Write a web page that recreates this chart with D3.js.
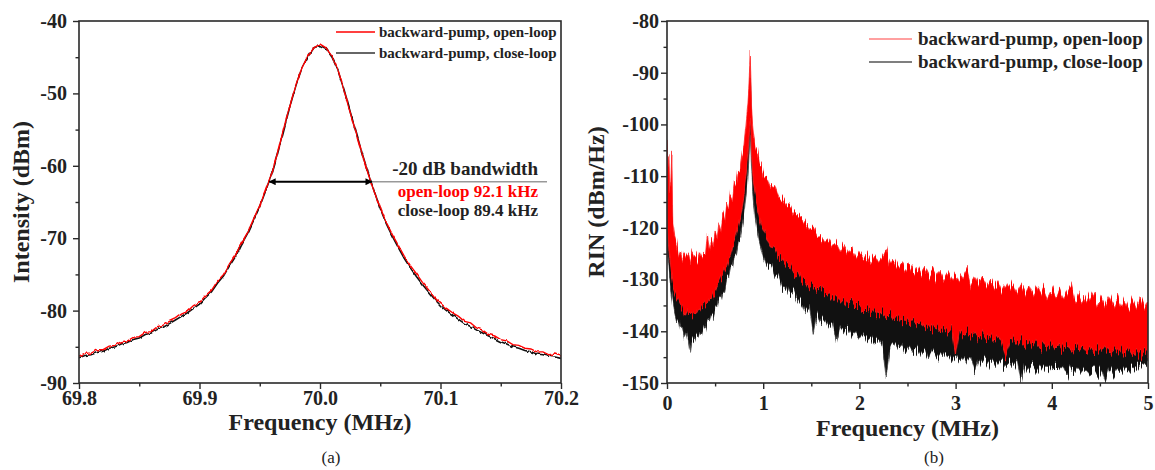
<!DOCTYPE html>
<html>
<head>
<meta charset="utf-8">
<script src="https://cdn.jsdelivr.net/npm/d3@7"></script>
<style>
    body { margin: 0; background: #fff; }
    svg text { font-family: "Liberation Serif", "Times New Roman", serif; }
</style>
</head>
<body>
<svg id="chart" width="1155" height="470"></svg>
<script>
// (a) spectrum around 70 MHz
var specFreq = [69.800, 69.805, 69.810, 69.815, 69.820, 69.825, 69.830, 69.835, 69.840, 69.845,
    69.850, 69.855, 69.860, 69.865, 69.870, 69.875, 69.880, 69.885, 69.890, 69.895,
    69.900, 69.905, 69.910, 69.915, 69.920, 69.925, 69.930, 69.935, 69.940, 69.945,
    69.950, 69.955, 69.960, 69.965, 69.970, 69.975, 69.980, 69.985, 69.990, 69.995,
    70.000, 70.005, 70.010, 70.015, 70.020, 70.025, 70.030, 70.035, 70.040, 70.045,
    70.050, 70.055, 70.060, 70.065, 70.070, 70.075, 70.080, 70.085, 70.090, 70.095,
    70.100, 70.105, 70.110, 70.115, 70.120, 70.125, 70.130, 70.135, 70.140, 70.145,
    70.150, 70.155, 70.160, 70.165, 70.170, 70.175, 70.180, 70.185, 70.190, 70.195, 70.200]
var specOpen = [-86.3, -85.9, -85.9, -85.4, -85.4, -84.9, -84.8, -84.3, -84.2, -83.7,
    -83.6, -83.0, -82.9, -82.2, -82.0, -81.5, -81.1, -80.5, -80.1, -79.3,
    -78.9, -77.9, -77.2, -75.9, -75.0, -73.5, -72.3, -70.6, -69.2, -67.3,
    -65.5, -63.3, -61.0, -58.1, -54.8, -51.7, -48.8, -46.5, -44.8, -43.7,
    -43.2, -43.7, -44.9, -46.8, -49.6, -52.6, -55.5, -58.4, -61.1, -63.6,
    -65.8, -67.8, -69.5, -71.0, -72.5, -73.8, -74.9, -76.1, -77.1, -78.2,
    -79.0, -79.7, -80.3, -80.8, -81.5, -81.7, -82.4, -82.7, -83.3, -83.5,
    -84.0, -84.2, -84.7, -84.8, -85.2, -85.3, -85.7, -85.7, -86.1, -86.0, -86.3]
var specClose = [-86.5, -86.2, -86.1, -85.8, -85.6, -85.2, -85.0, -84.6, -84.4, -84.0,
    -83.8, -83.3, -83.1, -82.6, -82.3, -81.8, -81.3, -80.8, -80.3, -79.7,
    -79.1, -78.2, -77.4, -76.2, -75.2, -73.8, -72.5, -70.8, -69.3, -67.5,
    -65.6, -63.4, -61.1, -58.2, -55.0, -51.8, -48.9, -46.5, -44.9, -43.7,
    -43.4, -43.8, -45.0, -46.9, -49.5, -52.5, -55.4, -58.3, -61.0, -63.5,
    -65.9, -68.0, -69.7, -71.3, -72.8, -74.1, -75.3, -76.4, -77.4, -78.4,
    -79.3, -80.0, -80.6, -81.2, -81.8, -82.2, -82.7, -83.1, -83.5, -83.9,
    -84.3, -84.6, -85.0, -85.2, -85.5, -85.7, -86.0, -86.1, -86.3, -86.4, -86.6]
var specXTicks = [69.8, 69.9, 70.0, 70.1, 70.2]
var specXMinor = [69.85, 69.95, 70.05, 70.15]
var specYTicks = [-40, -50, -60, -70, -80, -90]
var specYMinor = [-45, -55, -65, -75, -85]
// -20 dB bandwidth marker: [left, right] MHz at level dBm
var bwEdges = [69.958, 70.043]
var bwLevel = -62.2
var bwLabels = ['-20 dB bandwidth', 'open-loop 92.1 kHz', 'close-loop 89.4 kHz']

// (b) RIN, drawn as the envelope (top / bottom) of each noisy trace
var rinFreq = [0, 0.01, 0.02, 0.03, 0.04, 0.05, 0.06, 0.07, 0.08,
    0.10, 0.12, 0.14, 0.16, 0.18, 0.20, 0.22, 0.24, 0.26, 0.28, 0.30, 0.32, 0.34, 0.36, 0.38,
    0.40, 0.42, 0.44, 0.46, 0.48, 0.50, 0.52, 0.54, 0.56, 0.58, 0.60, 0.62, 0.64, 0.66, 0.68,
    0.70, 0.72, 0.74, 0.76, 0.78, 0.80, 0.82, 0.84,
    0.85, 0.86, 0.865, 0.87, 0.875, 0.88, 0.89, 0.90, 0.92, 0.94, 0.96, 0.98, 1.00,
    1.04, 1.08, 1.12, 1.16, 1.20, 1.24, 1.28, 1.32, 1.36, 1.40, 1.44, 1.48, 1.52, 1.56, 1.60,
    1.64, 1.68, 1.72, 1.76, 1.80, 1.84, 1.88, 1.92, 1.96, 2.00, 2.04, 2.08, 2.12, 2.16, 2.20,
    2.24, 2.28, 2.32, 2.36, 2.40, 2.44, 2.48, 2.52, 2.56, 2.60, 2.64, 2.68, 2.72, 2.76, 2.80,
    2.84, 2.88, 2.92, 2.96, 3.00, 3.04, 3.08, 3.12, 3.16, 3.20, 3.24, 3.28, 3.32, 3.36, 3.40,
    3.44, 3.48, 3.52, 3.56, 3.60, 3.64, 3.68, 3.72, 3.76, 3.80, 3.84, 3.88, 3.92, 3.96, 4.00,
    4.04, 4.08, 4.12, 4.16, 4.20, 4.24, 4.28, 4.32, 4.36, 4.40, 4.44, 4.48, 4.52, 4.56, 4.60,
    4.64, 4.68, 4.72, 4.76, 4.80, 4.84, 4.88, 4.92, 4.96, 5.00]
var rinOpenHi = [-103, -108, -106, -113, -112, -105.5, -118.5, -120, -121.5,
    -123.0, -125.5, -124.5, -126.3, -124.8, -125.6, -125.0, -126.8, -124.6, -125.5, -125.2, -126.4, -124.8, -125.9, -125.3,
    -125.2, -121.0, -124.0, -122.2, -123.5, -120.6, -122.0, -119.0, -120.5, -117.6, -118.7, -115.2, -116.3, -113.4, -114.2,
    -111.0, -111.9, -108.8, -109.2, -105.5, -104.0, -100.0, -96.0,
    -93, -89, -86.2, -89.5, -94, -97, -100, -102, -104.5, -105, -107.5, -107.6, -109.8,
    -110.3, -112.5, -112.0, -114.3, -114.2, -115.6, -115.8, -117.5, -117.4, -117.8, -119.0, -120.5, -120.0, -121.6, -121.5,
    -122.8, -122.2, -123.6, -123.0, -124.6, -123.4, -125.0, -123.9, -125.8, -124.6, -126.0, -125.0, -126.6, -125.5, -126.9,
    -125.8, -124.2, -127.4, -126.3, -127.8, -126.8, -128.3, -127.0, -128.6, -127.4, -128.9, -127.6, -129.2, -128.0, -129.6,
    -128.2, -129.9, -128.6, -130.2, -128.9, -130.5, -129.2, -127.8, -130.9, -129.6, -131.2, -129.9, -131.4, -130.1, -131.7,
    -130.4, -132.0, -130.6, -132.2, -130.8, -132.5, -131.0, -132.7, -131.2, -133.0, -131.4, -133.2, -131.6, -133.4, -131.8,
    -133.6, -132.0, -133.8, -132.2, -130.8, -134.1, -132.5, -134.3, -132.7, -134.5, -132.9, -134.7, -133.1, -134.9, -133.3,
    -135.1, -133.4, -135.3, -133.6, -135.4, -133.7, -135.6, -133.8, -135.8, -134.0]
var rinOpenLo = [-118, -121, -124, -126, -128, -129.5, -131, -132, -132.5,
    -133.5, -134.0, -135.0, -135.2, -136.5, -136.0, -137.2, -136.8, -137.3, -136.5, -136.6, -135.8, -136.0, -135.2, -135.3,
    -134.6, -134.6, -133.8, -133.9, -132.8, -132.5, -131.4, -131.0, -129.8, -129.2, -128.0, -127.4, -126.0, -125.4, -123.8,
    -122.8, -121.2, -119.8, -118.0, -116.0, -113.5, -110.0, -106.0,
    -103, -100, -99, -100.5, -103, -106, -109, -111.5, -114, -116, -118, -119.5, -120.5,
    -122.2, -124.0, -123.6, -125.6, -126.0, -127.4, -127.2, -128.8, -128.6, -130.4, -129.8, -131.4, -130.8, -132.4, -131.7,
    -133.0, -132.4, -133.8, -133.0, -134.4, -133.6, -135.0, -134.2, -135.6, -134.8, -136.0, -135.3, -136.6, -135.8, -137.0,
    -136.2, -137.4, -136.6, -138.0, -137.0, -138.3, -137.4, -138.7, -137.8, -139.0, -138.1, -139.4, -138.5, -139.8, -138.8,
    -140.1, -139.1, -140.4, -139.4, -144.8, -139.7, -141.0, -140.0, -141.2, -140.2, -141.5, -140.4, -141.7, -140.6, -142.0,
    -140.8, -142.2, -145.0, -142.4, -141.2, -142.6, -141.4, -142.8, -141.6, -143.0, -141.8, -143.2, -142.0, -143.4, -142.2,
    -143.6, -142.3, -143.7, -142.5, -143.9, -142.6, -144.0, -142.8, -144.1, -142.9, -144.2, -143.0, -144.3, -143.1, -144.4,
    -143.2, -144.5, -143.3, -144.6, -143.4, -144.7, -143.5, -144.8, -143.6, -144.8]
var rinCloseHi = [-108, -112, -113, -117, -118, -116, -122, -124, -125,
    -128, -129, -129.5, -130, -130, -130.5, -130.5, -131, -130.5, -130.5, -130, -130, -129.5, -129.5, -129,
    -128.5, -128, -127.5, -127, -126.5, -125.5, -125, -124, -123, -122, -121, -120, -119, -117.5, -116.5,
    -115, -113.5, -112, -110.5, -108.5, -106.5, -103.5, -100,
    -97, -93, -91, -93, -97, -100, -103, -105, -107.5, -108.5, -110, -111, -112.5,
    -114, -115, -116, -117, -118, -119, -119.8, -120.6, -121.4, -122.1, -122.8, -123.4, -124, -124.5, -125,
    -125.4, -125.8, -126.2, -126.6, -127, -127.3, -127.6, -127.9, -128.1, -128.3, -128.5, -128.7, -128.9, -129.1, -129.3,
    -129.5, -129.7, -129.9, -130.1, -130.3, -130.5, -130.7, -130.9, -131.1, -131.3, -131.5, -131.7, -131.9, -132.1, -132.3,
    -132.5, -132.6, -132.8, -132.9, -133.0, -133.1, -133.2, -133.3, -133.4, -133.5, -133.6, -133.7, -133.8, -133.9, -134.0,
    -134.1, -134.2, -134.3, -134.4, -134.5, -134.6, -134.7, -134.8, -134.9, -135.0, -135.1, -135.2, -135.3, -135.4, -135.5,
    -135.6, -135.7, -135.8, -135.9, -136.0, -136.1, -136.2, -136.3, -136.4, -136.5, -136.6, -136.7, -136.8, -136.9, -137.0,
    -137.1, -137.2, -137.3, -137.4, -137.5, -137.6, -137.7, -137.8, -137.9, -138.0]
var rinCloseLo = [-124, -126, -128, -130, -131.5, -133, -134.5, -135.5, -136.5,
    -138.0, -137.5, -139.5, -139.0, -141.0, -140.2, -141.8, -144.3, -141.5, -141.9, -140.8, -141.3, -140.2, -140.6, -139.2,
    -139.5, -138.0, -138.2, -136.9, -137.2, -135.6, -135.8, -133.8, -133.9, -132.0, -132.1, -130.0, -130.0, -128.0, -127.8,
    -125.6, -125.3, -123.0, -122.4, -120.0, -117.5, -114.0, -110.0,
    -107, -103, -101.5, -103, -106, -109, -112, -114.5, -118, -120.5, -122.5, -124, -125.5,
    -127.6, -127.2, -129.4, -129.0, -131.5, -131.0, -133.0, -132.6, -134.6, -134.0, -136.0, -135.4, -140.6, -136.4, -138.0,
    -137.5, -139.0, -138.3, -142.2, -138.9, -140.2, -139.5, -140.8, -140.1, -141.3, -140.6, -141.9, -141.1, -142.3, -141.5,
    -142.8, -148.8, -143.1, -142.2, -143.5, -142.6, -144.0, -143.0, -144.2, -143.4, -144.5, -143.6, -145.5, -143.9, -145.0,
    -144.2, -145.3, -144.4, -145.5, -144.6, -145.7, -144.8, -146.0, -145.0, -147.5, -145.2, -146.3, -145.4, -146.5, -145.6,
    -146.6, -145.8, -146.8, -146.0, -147.0, -146.1, -150.0, -146.3, -147.2, -146.4, -147.3, -146.6, -147.4, -146.7, -147.5,
    -146.8, -147.6, -146.9, -148.4, -147.0, -147.8, -147.1, -147.9, -147.2, -148.0, -147.3, -148.2, -147.4, -149.8, -147.5,
    -148.5, -147.4, -148.0, -147.2, -147.6, -147.0, -147.2, -146.6, -147.0, -146.4]
var rinXTicks = [0, 1, 2, 3, 4, 5]
var rinXMinor = [0.5, 1.5, 2.5, 3.5, 4.5]
var rinYTicks = [-80, -90, -100, -110, -120, -130, -140, -150]
var rinYMinor = [-85, -95, -105, -115, -125, -135, -145]

var seriesNames = ['backward-pump, open-loop', 'backward-pump, close-loop']

;(function () {
    var svg = d3.select('#chart')
    var frameColor = '#2a2a2a'
    var defs = svg.append('defs')

    defs.append('marker')
        .attr('id', 'arrow').attr('viewBox', '0 0 10 10')
        .attr('refX', 9).attr('refY', 5)
        .attr('markerWidth', 9).attr('markerHeight', 7)
        .attr('markerUnits', 'userSpaceOnUse')
        .attr('orient', 'auto-start-reverse')
        .append('path').attr('d', 'M0,0L10,5L0,10z').attr('fill', '#000')

    // vertical-only jitter filter: gives the measured traces their grainy, noisy edge
    function jitter(id, freq, scale, seed) {
        var f = defs.append('filter').attr('id', id)
            .attr('x', '-2%').attr('y', '-15%').attr('width', '104%').attr('height', '130%')
            .attr('color-interpolation-filters', 'sRGB')
        f.append('feTurbulence').attr('type', 'fractalNoise').attr('baseFrequency', freq)
            .attr('numOctaves', 2).attr('seed', seed).attr('result', 't')
        f.append('feColorMatrix').attr('in', 't').attr('type', 'matrix')
            .attr('values', '0 0 0 0 0.5  0 1 0 0 0  0 0 0 0 0  0 0 0 0 1').attr('result', 'm')
        f.append('feDisplacementMap').attr('in', 'SourceGraphic').attr('in2', 'm')
            .attr('scale', scale).attr('xChannelSelector', 'R').attr('yChannelSelector', 'G')
        return 'url(#' + id + ')'
    }

    // plain hyphen for negative tick labels, as in the original figure
    function plain(fmt) {
        var f = d3.format(fmt)
        return function (d) { return f(d).replace('\u2212', '-') }
    }

    // frame + ticks + labels for one panel
    function drawAxes(opt) {
        var x = opt.x, y = opt.y
        var x0 = x.range()[0], x1 = x.range()[1], y0 = y.range()[0], y1 = y.range()[1]
        var g = svg.append('g')

        g.append('g').attr('transform', 'translate(0,' + y0 + ')')
            .call(d3.axisBottom(x).tickValues(opt.xTicks).tickSize(6).tickSizeOuter(0)
                .tickPadding(opt.xPad).tickFormat(opt.xFormat))
        g.append('g').attr('transform', 'translate(0,' + y0 + ')')
            .call(d3.axisBottom(x).tickValues(opt.xMinor).tickSize(3.5).tickSizeOuter(0).tickFormat(''))
        g.append('g').attr('transform', 'translate(' + x0 + ',0)')
            .call(d3.axisLeft(y).tickValues(opt.yTicks).tickSize(6).tickSizeOuter(0)
                .tickPadding(opt.yPad).tickFormat(plain('d')))
        g.append('g').attr('transform', 'translate(' + x0 + ',0)')
            .call(d3.axisLeft(y).tickValues(opt.yMinor).tickSize(3.5).tickSizeOuter(0).tickFormat(''))

        g.selectAll('.domain').remove()
        g.selectAll('.tick line').attr('stroke', frameColor).attr('stroke-width', 1.4)
        g.selectAll('.tick text').attr('fill', '#222')
            .style('font-size', '20px').style('font-weight', 'bold')
            .style('font-family', '"Liberation Serif", serif')

        g.append('rect').attr('x', x0).attr('y', y1)
            .attr('width', x1 - x0).attr('height', y0 - y1)
            .attr('fill', 'none').attr('stroke', frameColor).attr('stroke-width', 1.6)

        g.append('text').attr('x', (x0 + x1) / 2).attr('y', opt.xTitleY)
            .attr('text-anchor', 'middle').attr('fill', '#222')
            .style('font-size', '24px').style('font-weight', 'bold').text('Frequency (MHz)')
        g.append('text').attr('transform', 'translate(' + opt.yTitleX + ',' + ((y0 + y1) / 2) + ') rotate(-90)')
            .attr('text-anchor', 'middle').attr('fill', '#222')
            .style('font-size', '24px').style('font-weight', 'bold').text(opt.yTitle)
        g.append('text').attr('x', opt.capX).attr('y', 463)
            .attr('text-anchor', 'middle').attr('fill', '#222')
            .style('font-size', '17px').text(opt.caption)
    }

    function clip(id, x, y) {
        defs.append('clipPath').attr('id', id).append('rect')
            .attr('x', x.range()[0]).attr('y', y.range()[1])
            .attr('width', x.range()[1] - x.range()[0]).attr('height', y.range()[0] - y.range()[1])
        return 'url(#' + id + ')'
    }

    // ---------- (a) ----------
    var xa = d3.scaleLinear().domain([69.8, 70.2]).range([79, 561])
    var ya = d3.scaleLinear().domain([-90, -40]).range([383, 21])
    var line = d3.line().x(function (d) { return xa(d[0]) }).y(function (d) { return ya(d[1]) })
    var gA = svg.append('g').attr('clip-path', clip('clipA', xa, ya))
    gA.append('path').datum(d3.zip(specFreq, specClose)).attr('d', line)
        .attr('fill', 'none').attr('stroke', '#111').attr('stroke-width', 1.6)
        .attr('filter', jitter('jitA1', '0.3 0.08', 4, 2))
    gA.append('path').datum(d3.zip(specFreq, specOpen)).attr('d', line)
        .attr('fill', 'none').attr('stroke', '#f00').attr('stroke-width', 1.4)
        .attr('filter', jitter('jitA2', '0.3 0.08', 4, 7))

    drawAxes({
        x: xa, y: ya, xTicks: specXTicks, xMinor: specXMinor, yTicks: specYTicks, yMinor: specYMinor,
        xFormat: d3.format('.1f'), xPad: 2, yPad: 6, xTitleY: 430, yTitleX: 29,
        yTitle: 'Intensity (dBm)', capX: 331, caption: '(a)'
    })

    // legend (a)
    var legA = [{c: '#f00', y: 32}, {c: '#333', y: 53}]
    legA.forEach(function (d, i) {
        svg.append('line').attr('x1', 336).attr('x2', 375).attr('y1', d.y).attr('y2', d.y)
            .attr('stroke', d.c).attr('stroke-width', 1.6)
        svg.append('text').attr('x', 379).attr('y', d.y + 5).attr('fill', '#222')
            .style('font-size', '15px').style('font-weight', 'bold').text(seriesNames[i])
    })

    // bandwidth marker
    svg.append('line').attr('x1', xa(bwEdges[1])).attr('x2', 547)
        .attr('y1', ya(bwLevel)).attr('y2', ya(bwLevel))
        .attr('stroke', '#999').attr('stroke-width', 1.5)
    svg.append('line').attr('x1', xa(bwEdges[0])).attr('x2', xa(bwEdges[1]))
        .attr('y1', ya(bwLevel)).attr('y2', ya(bwLevel))
        .attr('stroke', '#000').attr('stroke-width', 2)
        .attr('marker-start', 'url(#arrow)').attr('marker-end', 'url(#arrow)')
    var bwText = [{y: 175, c: '#222', s: 19}, {y: 197, c: '#f00', s: 17}, {y: 216, c: '#222', s: 17}]
    bwText.forEach(function (d, i) {
        svg.append('text').attr('x', 538).attr('y', d.y).attr('text-anchor', 'end')
            .attr('fill', d.c).style('font-size', d.s + 'px').style('font-weight', 'bold')
            .text(bwLabels[i])
    })

    // ---------- (b) ----------
    var xb = d3.scaleLinear().domain([0, 5]).range([667, 1148])
    var yb = d3.scaleLinear().domain([-150, -80]).range([383, 21])
    function band(hi, lo) {
        return d3.area()
            .x(function (d, i) { return xb(rinFreq[i]) })
            .y0(function (d, i) { return yb(lo[i]) })
            .y1(function (d, i) { return yb(hi[i]) })(rinFreq)
    }
    var gB = svg.append('g').attr('clip-path', clip('clipB', xb, yb))
    gB.append('path').attr('d', band(rinCloseHi, rinCloseLo))
        .attr('fill', '#111').attr('stroke', '#444').attr('stroke-width', 0.8)
        .attr('filter', jitter('jitB1', '0.8 0.012', 22, 5))
    gB.append('path').attr('d', band(rinOpenHi, rinOpenLo))
        .attr('fill', '#f00').attr('stroke', '#f22').attr('stroke-width', 0.8)
        .attr('filter', jitter('jitB2', '0.8 0.012', 22, 11))

    drawAxes({
        x: xb, y: yb, xTicks: rinXTicks, xMinor: rinXMinor, yTicks: rinYTicks, yMinor: rinYMinor,
        xFormat: d3.format('d'), xPad: 7, yPad: 2, xTitleY: 436, yTitleX: 604,
        yTitle: 'RIN (dBm/Hz)', capX: 934, caption: '(b)'
    })

    // legend (b)
    var legB = [{c: '#ff8080', y: 39}, {c: '#555', y: 62}]
    legB.forEach(function (d, i) {
        svg.append('line').attr('x1', 869).attr('x2', 912).attr('y1', d.y).attr('y2', d.y)
            .attr('stroke', d.c).attr('stroke-width', 1.3)
        svg.append('text').attr('x', 918).attr('y', d.y + 6).attr('fill', '#222')
            .style('font-size', '19px').style('font-weight', 'bold').text(seriesNames[i])
    })
})()
</script>
</body>
</html>
